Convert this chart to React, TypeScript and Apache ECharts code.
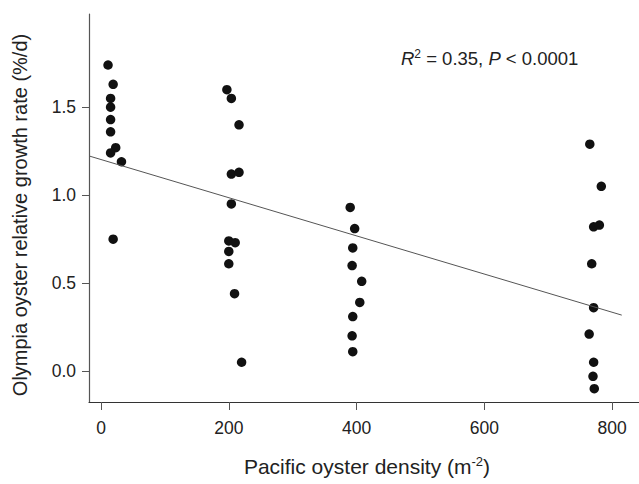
import React, { useEffect, useRef } from "react";
import * as echarts from "echarts";

const xTicks = [0, 200, 400, 600, 800];
const yTicks = [0, 0.5, 1.0, 1.5];

const density = [
  11, 19, 15, 15, 15, 15, 23, 15, 32, 19,
  197, 204, 216, 204, 216, 204, 200, 210, 200, 200, 209, 220,
  390, 397, 394, 393, 408, 405, 394, 393, 394,
  765, 783, 771, 780, 768, 771, 764, 771, 770, 772,
];
const growth = [
  1.74, 1.63, 1.55, 1.5, 1.43, 1.36, 1.27, 1.24, 1.19, 0.75,
  1.6, 1.55, 1.4, 1.12, 1.13, 0.95, 0.74, 0.73, 0.68, 0.61, 0.44, 0.05,
  0.93, 0.81, 0.7, 0.6, 0.51, 0.39, 0.31, 0.2, 0.11,
  1.29, 1.05, 0.82, 0.83, 0.61, 0.36, 0.21, 0.05, -0.03, -0.1,
];
const fitX = [-18.8, 815];
const fitY = [1.223, 0.318];

const FONT = "'Liberation Sans', Arial, sans-serif";

export default function App() {
  const ref = useRef<HTMLDivElement>(null);
  useEffect(() => {
    if (!ref.current) return;
    const chart = echarts.init(ref.current, undefined, { renderer: "svg" });
    chart.setOption({
      animation: false,
      backgroundColor: "#ffffff",
      grid: { left: 89, top: 14, width: 550, height: 388 },
      xAxis: {
        type: "value",
        min: -18.8,
        max: 842,
        splitLine: { show: false },
        axisLine: { show: true, onZero: false, lineStyle: { color: "#333", width: 1.2 } },
        axisTick: { show: true, customValues: xTicks, length: 8, lineStyle: { color: "#555" } },
        axisLabel: {
          customValues: xTicks,
          fontSize: 17.5,
          color: "#222",
          margin: 17,
          fontFamily: FONT,
        },
      },
      yAxis: {
        type: "value",
        min: -0.176,
        max: 2.03,
        splitLine: { show: false },
        axisLine: { show: true, onZero: false, lineStyle: { color: "#555", width: 1.2 } },
        axisTick: { show: true, customValues: yTicks, length: 7, lineStyle: { color: "#555" } },
        axisLabel: {
          customValues: yTicks,
          fontSize: 17.5,
          color: "#222",
          margin: 13,
          fontFamily: FONT,
          formatter: (v: number) => v.toFixed(1),
        },
      },
      series: [
        {
          type: "line",
          data: fitX.map((x, i) => [x, fitY[i]]),
          symbol: "none",
          lineStyle: { color: "#555", width: 1 },
          silent: true,
        },
        {
          type: "scatter",
          data: density.map((x, i) => [x, growth[i]]),
          symbolSize: 9.5,
          itemStyle: { color: "#111", opacity: 1 },
        },
      ],
      graphic: [
        {
          type: "text",
          x: 20,
          y: 215,
          rotation: Math.PI / 2,
          style: {
            text: "Olympia oyster relative growth rate (%/d)",
            fontSize: 20,
            fill: "#222",
            align: "center",
            verticalAlign: "middle",
            fontFamily: FONT,
          },
        },
        {
          type: "text",
          x: 367,
          y: 466,
          style: {
            text: "Pacific oyster density (m{sup|-2})",
            fontSize: 21,
            fill: "#222",
            align: "center",
            verticalAlign: "middle",
            fontFamily: FONT,
            rich: {
              sup: { fontSize: 13, fill: "#222", fontFamily: FONT, verticalAlign: "top", padding: [0, 0, 10, 0] },
            },
          },
        },
        {
          type: "text",
          x: 401,
          y: 58,
          style: {
            text: "{i|R}{sup|2} = 0.35, {i|P} < 0.0001",
            fontSize: 18.5,
            fill: "#222",
            align: "left",
            verticalAlign: "middle",
            fontFamily: FONT,
            rich: {
              i: { fontStyle: "italic", fontSize: 18.5, fill: "#222", fontFamily: FONT },
              sup: { fontSize: 12, fill: "#222", fontFamily: FONT, verticalAlign: "top", padding: [0, 0, 9, 0] },
            },
          },
        },
      ],
    });
    return () => chart.dispose();
  }, []);
  return (
    <div
      ref={ref}
      style={{ position: "absolute", left: 0, top: 0, width: 639, height: 484 }}
    />
  );
}
